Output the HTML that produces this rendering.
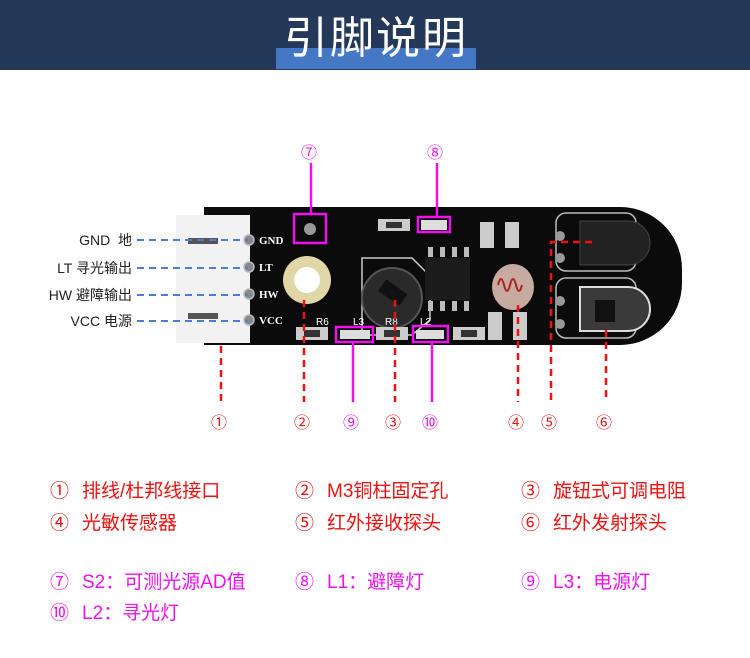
<!DOCTYPE html>
<html><head><meta charset="utf-8"><style>
body{margin:0;width:750px;height:658px;background:#fff;overflow:hidden;position:relative;font-family:"Liberation Sans","Noto Sans CJK SC",sans-serif}
.t{position:absolute;white-space:nowrap}
.r{color:#ee1111;font-size:19px}
.m{color:#ee11ee;font-size:19px}
.r span,.m span{display:inline-block;width:32px}
.pl{font-size:14px;color:#222;text-align:right;width:120px}
</style></head><body>
<div style="position:absolute;left:0;top:0;width:750px;height:70px;background:#243859"></div>
<div style="position:absolute;left:276px;top:48px;width:200px;height:21px;background:#4478c4"></div>
<div class="t" style="left:280px;top:6px;width:192px;text-align:center;color:#fff;font-size:44px;letter-spacing:2px;font-family:'Noto Sans CJK SC',sans-serif;line-height:56px">引脚说明</div>

<svg width="750" height="658" style="position:absolute;left:0;top:0" xmlns="http://www.w3.org/2000/svg">
 <path d="M204 207 H620 A62 62 0 0 1 682 269 V283 A62 62 0 0 1 620 345 H204 Z" fill="#0b0b0b"/>
 <rect x="176" y="215" width="74" height="128" fill="#f2f2f2"/>
 <rect x="188" y="238" width="30" height="6" fill="#555"/>
 <rect x="188" y="313" width="30" height="6" fill="#555"/>
 <g fill="#888" stroke="#bbb" stroke-width="1.5">
  <circle cx="249" cy="240" r="5"/><circle cx="249" cy="267" r="5"/><circle cx="249" cy="294" r="5"/><circle cx="249" cy="320" r="5"/>
 </g>
 <g fill="#fff" font-family="Liberation Serif,serif" font-weight="bold" font-size="11">
  <text x="259" y="244">GND</text><text x="259" y="271">LT</text><text x="259" y="298">HW</text><text x="259" y="324">VCC</text>
 </g>
 <circle cx="307" cy="280" r="24" fill="#e0d6a8"/><circle cx="307" cy="280" r="13" fill="#fff"/>
 <circle cx="310" cy="229" r="6" fill="#999"/>
 <path d="M362 258 H412 L430 276 V320 L412 335 H362 Z" fill="none" stroke="#ccc" stroke-width="1.5"/>
 <circle cx="392" cy="298" r="30" fill="#2a2a2a" stroke="#555" stroke-width="2"/>
 <rect x="380" y="285" width="26" height="14" fill="#111" transform="rotate(35 392 292)"/>
 <rect x="425" y="258" width="45" height="42" fill="#1c1c1c"/>
 <g fill="#bbb"><rect x="428" y="247" width="5" height="10"/><rect x="440" y="247" width="5" height="10"/><rect x="452" y="247" width="5" height="10"/><rect x="464" y="247" width="5" height="10"/>
 <rect x="428" y="301" width="5" height="10"/><rect x="440" y="301" width="5" height="10"/><rect x="452" y="301" width="5" height="10"/><rect x="464" y="301" width="5" height="10"/></g>
 <ellipse cx="513" cy="287" rx="21" ry="23" fill="#c7aaa0"/>
 <path d="M498 285 q3 -12 6 0 q3 12 6 0 q3 -12 6 0 q3 12 6 0" fill="none" stroke="#a22" stroke-width="2"/>
 <g fill="#ccc"><rect x="378" y="219" width="32" height="12"/><rect x="296" y="327" width="32" height="13"/><rect x="376" y="327" width="32" height="13"/><rect x="453" y="327" width="32" height="13"/>
 <rect x="480" y="222" width="14" height="26"/><rect x="505" y="222" width="14" height="26"/><rect x="488" y="312" width="14" height="28"/><rect x="513" y="312" width="14" height="28"/></g>
 <g fill="#333"><rect x="386" y="222" width="16" height="6"/><rect x="304" y="330" width="16" height="7"/><rect x="384" y="330" width="16" height="7"/><rect x="461" y="330" width="16" height="7"/></g>
 <g fill="#ddd"><rect x="421" y="220" width="26" height="10"/><rect x="340" y="330" width="30" height="9"/><rect x="416" y="330" width="28" height="9"/></g>
 <g fill="#fff" font-size="10" font-family="Liberation Sans,sans-serif"><text x="316" y="325">R6</text><text x="353" y="325">L3</text><text x="385" y="325">R8</text><text x="420" y="325">L2</text></g>
 <rect x="556" y="213" width="80" height="58" rx="10" fill="none" stroke="#bbb" stroke-width="1.5"/>
 <rect x="556" y="278" width="80" height="60" rx="10" fill="none" stroke="#bbb" stroke-width="1.5"/>
 <path d="M580 221 H628 A22 22 0 0 1 628 265 H580 Z" fill="#222" stroke="#444"/>
 <path d="M580 287 H628 A22 22 0 0 1 628 331 H580 Z" fill="#3a3a3a" stroke="#ddd" stroke-width="2"/>
 <rect x="595" y="300" width="20" height="22" fill="#111"/>
 <g fill="#999"><circle cx="560" cy="236" r="5"/><circle cx="560" cy="258" r="5"/><circle cx="560" cy="301" r="5"/><circle cx="560" cy="324" r="5"/></g>
 <g fill="none" stroke="#ee11ee" stroke-width="2.5">
  <rect x="294" y="214" width="32" height="29"/><rect x="418" y="217" width="32" height="15"/><rect x="336" y="327" width="37" height="15"/><rect x="413" y="326" width="35" height="16"/>
 </g>
 <g stroke="#ee11ee" stroke-width="2.5"><line x1="311" y1="163" x2="311" y2="214"/><line x1="437" y1="163" x2="437" y2="217"/><line x1="353" y1="342" x2="353" y2="402"/><line x1="432" y1="342" x2="432" y2="402"/></g>
 <g stroke="#ee1111" stroke-width="2.5" stroke-dasharray="7 5" fill="none">
  <line x1="221" y1="346" x2="221" y2="402"/><line x1="304" y1="300" x2="304" y2="402"/><line x1="395" y1="300" x2="395" y2="402"/>
  <line x1="518" y1="305" x2="518" y2="402"/><path d="M592 242 H551 V402"/><line x1="606" y1="330" x2="606" y2="402"/>
 </g>
 <g stroke="#4a7fcf" stroke-width="2" stroke-dasharray="7 5"><line x1="137" y1="240" x2="248" y2="240"/><line x1="137" y1="268" x2="248" y2="268"/><line x1="137" y1="295" x2="248" y2="295"/><line x1="137" y1="321" x2="248" y2="321"/></g>
</svg>

<div class="t pl" style="left:12px;top:230px">GND&nbsp;&nbsp;地</div>
<div class="t pl" style="left:12px;top:258px">LT 寻光输出</div>
<div class="t pl" style="left:12px;top:285px">HW 避障输出</div>
<div class="t pl" style="left:12px;top:311px">VCC 电源</div>

<div class="t m" style="left:301px;top:139px;font-size:16px">⑦</div>
<div class="t m" style="left:427px;top:139px;font-size:16px">⑧</div>
<div class="t r" style="left:211px;top:409px;font-size:16px">①</div>
<div class="t r" style="left:294px;top:409px;font-size:16px">②</div>
<div class="t m" style="left:343px;top:409px;font-size:16px">⑨</div>
<div class="t r" style="left:385px;top:409px;font-size:16px">③</div>
<div class="t m" style="left:422px;top:409px;font-size:16px">⑩</div>
<div class="t r" style="left:508px;top:409px;font-size:16px">④</div>
<div class="t r" style="left:541px;top:409px;font-size:16px">⑤</div>
<div class="t r" style="left:596px;top:409px;font-size:16px">⑥</div>

<div class="t r" style="left:50px;top:476px"><span>①</span>排线/杜邦线接口</div>
<div class="t r" style="left:295px;top:476px"><span>②</span>M3铜柱固定孔</div>
<div class="t r" style="left:521px;top:476px"><span>③</span>旋钮式可调电阻</div>
<div class="t r" style="left:50px;top:508px"><span>④</span>光敏传感器</div>
<div class="t r" style="left:295px;top:508px"><span>⑤</span>红外接收探头</div>
<div class="t r" style="left:521px;top:508px"><span>⑥</span>红外发射探头</div>
<div class="t m" style="left:50px;top:567px"><span>⑦</span>S2：可测光源AD值</div>
<div class="t m" style="left:295px;top:567px"><span>⑧</span>L1：避障灯</div>
<div class="t m" style="left:521px;top:567px"><span>⑨</span>L3：电源灯</div>
<div class="t m" style="left:50px;top:598px"><span>⑩</span>L2：寻光灯</div>
</body></html>
